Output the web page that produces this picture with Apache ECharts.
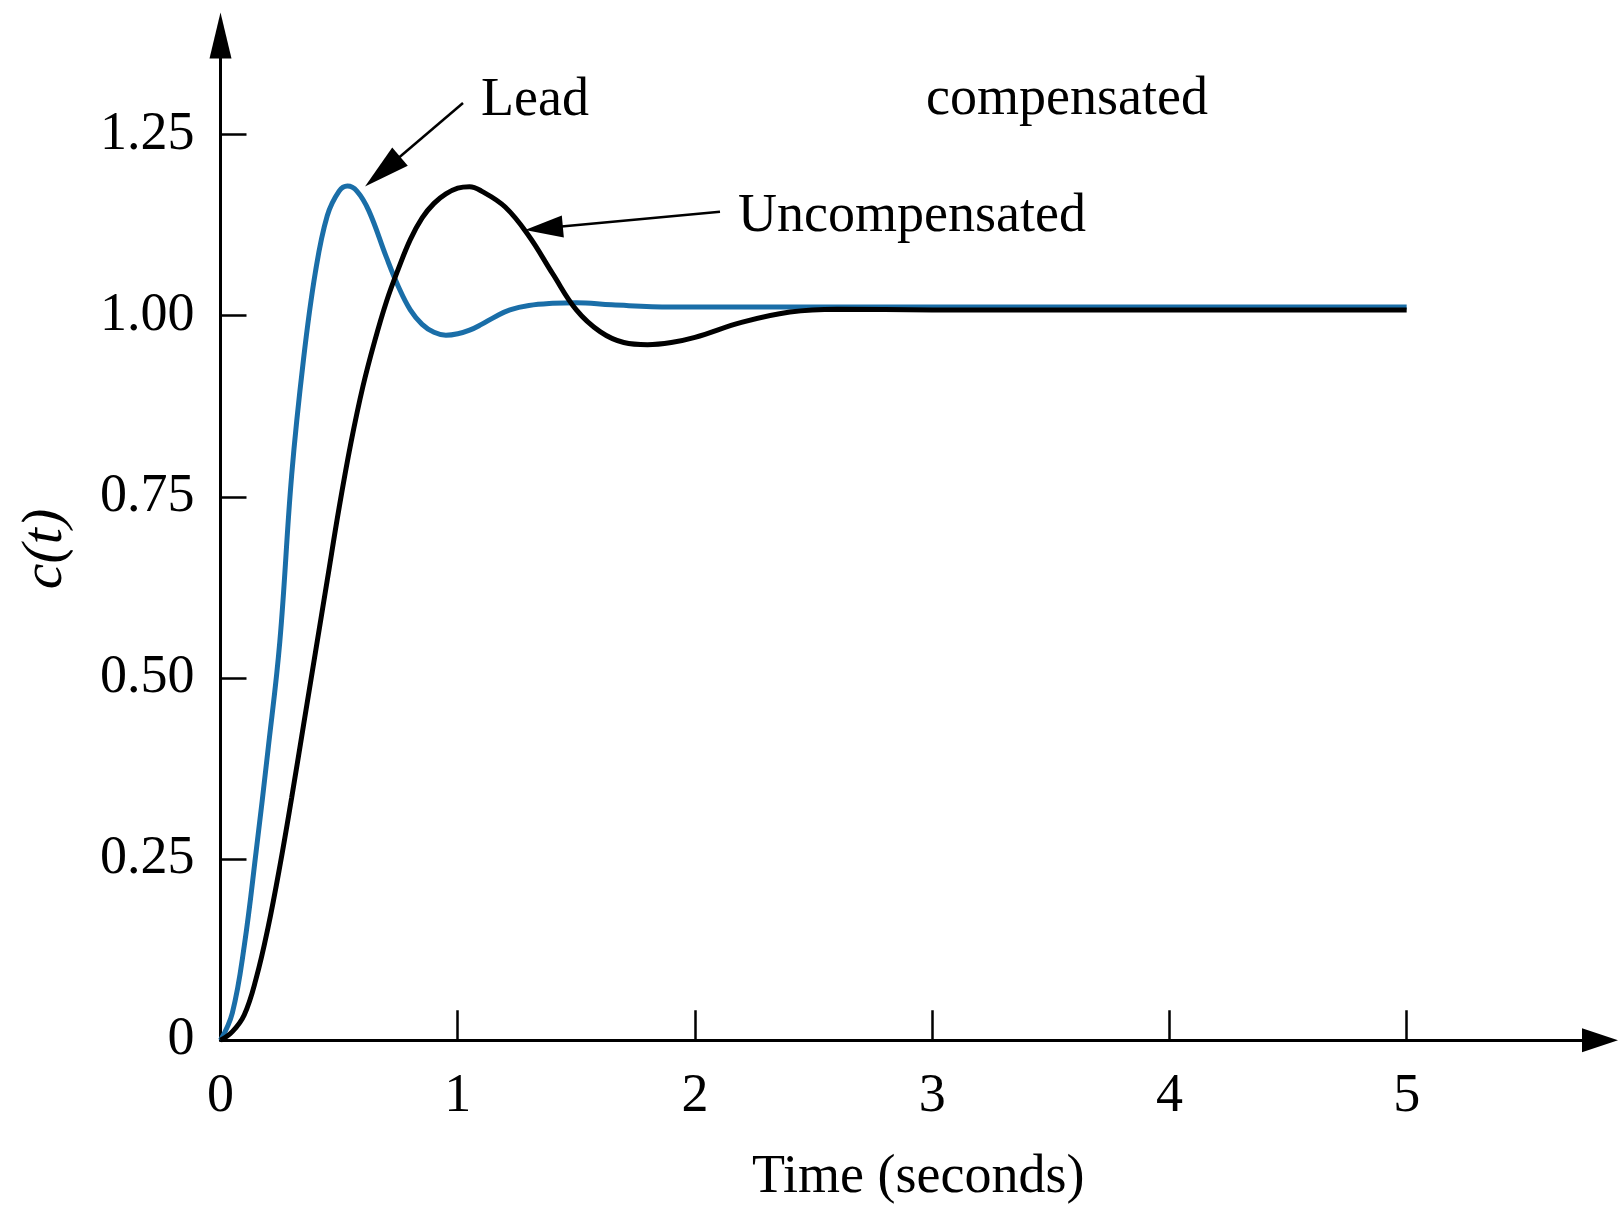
<!DOCTYPE html>
<html>
<head>
<meta charset="utf-8">
<script src="https://cdn.jsdelivr.net/npm/echarts@6/dist/echarts.min.js"></script>
<style>
html,body{margin:0;padding:0;background:#fff;}
#c{width:1623px;height:1216px;}
</style>
</head>
<body>
<div id="c"></div>
<script>
// ---- data ----
const timeLead = [0,0.05,0.1,0.15,0.2,0.25,0.3,0.35,0.4,0.45,0.5,0.535,0.575,0.625,0.7,0.75,0.8,0.85,0.9,0.95,1.0,1.05,1.1,1.16,1.22,1.3,1.4,1.5,1.65,1.9,2.5,3.5,5];
const lead     = [0,0.038,0.13,0.26,0.40,0.55,0.78,0.94,1.06,1.138,1.172,1.179,1.172,1.145,1.08,1.04,1.008,0.988,0.977,0.973,0.975,0.98,0.988,0.999,1.008,1.014,1.017,1.018,1.015,1.012,1.012,1.012,1.012];
const timeUncomp = [0,0.05,0.1,0.15,0.2,0.25,0.3,0.35,0.4,0.45,0.5,0.55,0.6,0.65,0.7,0.75,0.8,0.85,0.9,0.95,1.0,1.05,1.1,1.2,1.3,1.4,1.5,1.6,1.7,1.8,1.9,2.0,2.2,2.4,2.6,3,4,5];
const uncomp     = [0,0.012,0.035,0.085,0.155,0.24,0.335,0.435,0.535,0.635,0.735,0.825,0.902,0.965,1.02,1.065,1.105,1.135,1.155,1.168,1.176,1.178,1.172,1.15,1.11,1.058,1.008,0.978,0.963,0.960,0.963,0.970,0.991,1.005,1.009,1.008,1.008,1.008];
const xTicks = [0,1,2,3,4,5];
const yTicks = [0,0.25,0.5,0.75,1,1.25];

const FONT = '"Liberation Serif","Times New Roman",serif';
const BLUE = '#1a6ea8';
const zip = (a, b) => a.map((t, i) => [t, b[i]]);

const chart = echarts.init(document.getElementById('c'), null, {renderer: 'canvas'});

function arrow(tail, tip, len, wid, lw) {
  const dx = tip[0] - tail[0], dy = tip[1] - tail[1];
  const L = Math.sqrt(dx*dx + dy*dy);
  const ux = dx / L, uy = dy / L;
  const bx = tip[0] - ux * len, by = tip[1] - uy * len;
  const px = -uy * wid / 2, py = ux * wid / 2;
  return [
    {type: 'line', silent: true, z: 50,
     shape: {x1: tail[0], y1: tail[1], x2: bx + ux * 4, y2: by + uy * 4},
     style: {stroke: '#000', lineWidth: lw}},
    {type: 'polygon', silent: true, z: 50,
     shape: {points: [[tip[0], tip[1]], [bx + px, by + py], [bx - px, by - py]]},
     style: {fill: '#000'}}
  ];
}

const textStyle = (txt, x, y, extra) => Object.assign({
  type: 'text', silent: true, z: 50, x: x, y: y,
  style: Object.assign({text: txt, font: '54px ' + FONT, fill: '#000', align: 'left', verticalAlign: 'middle'}, extra || {})
});

const option = {
  animation: false,
  backgroundColor: '#fff',
  grid: {left: 220.5, right: 23, top: 35.4, bottom: 175.7, outerBoundsMode: 'none'},
  xAxis: {
    type: 'value', min: 0, max: 5.815, interval: 1,
    axisLine: {show: true, onZero: false, lineStyle: {color: '#000', width: 3},
               symbol: ['none', 'triangle'], symbolSize: [24, 36]},
    axisTick: {show: true, inside: true, length: 30, lineStyle: {color: '#000', width: 2.5}, customValues: xTicks},
    axisLabel: {customValues: xTicks, fontFamily: FONT, fontSize: 54, color: '#000', margin: 30,
                formatter: v => String(Math.round(v))},
    splitLine: {show: false},
    name: 'Time (seconds)', nameLocation: 'middle', nameGap: 111,
    nameTextStyle: {fontFamily: FONT, fontSize: 54, color: '#000', padding: [0, 0, 0, 16]}
  },
  yAxis: {
    type: 'value', min: 0, max: 1.3868, interval: 0.25,
    axisLine: {show: true, onZero: false, lineStyle: {color: '#000', width: 3},
               symbol: ['none', 'triangle'], symbolSize: [22, 46]},
    axisTick: {show: true, inside: true, length: 26, lineStyle: {color: '#000', width: 2.5}, customValues: yTicks},
    axisLabel: {customValues: yTicks, fontFamily: FONT, fontSize: 54, color: '#000', margin: 26,
                formatter: v => (v === 0 ? '0' : v.toFixed(2))},
    splitLine: {show: false}
  },
  series: [
    {name: 'Lead compensated', type: 'line', data: zip(timeLead, lead), showSymbol: false,
     smooth: 0.4, lineStyle: {color: BLUE, width: 5}, z: 3, silent: true},
    {name: 'Uncompensated', type: 'line', data: zip(timeUncomp, uncomp), showSymbol: false,
     smooth: 0.4, lineStyle: {color: '#000', width: 5}, z: 4, silent: true}
  ],
  graphic: [].concat(
    arrow([463, 103], [365, 186.5], 46, 24, 2.5),
    arrow([720, 211.7], [525, 230], 38, 22, 2.5),
    [
      textStyle('Lead', 481, 101),
      textStyle('compensated', 926, 100),
      textStyle('Uncompensated', 738, 217),
      {type: 'text', silent: true, z: 50, x: 46, y: 549, rotation: Math.PI / 2,
       style: {text: 'c(t)', font: 'italic 58px ' + FONT, fill: '#000', align: 'center', verticalAlign: 'middle'}}
    ]
  )
};
chart.setOption(option);
</script>
</body>
</html>
